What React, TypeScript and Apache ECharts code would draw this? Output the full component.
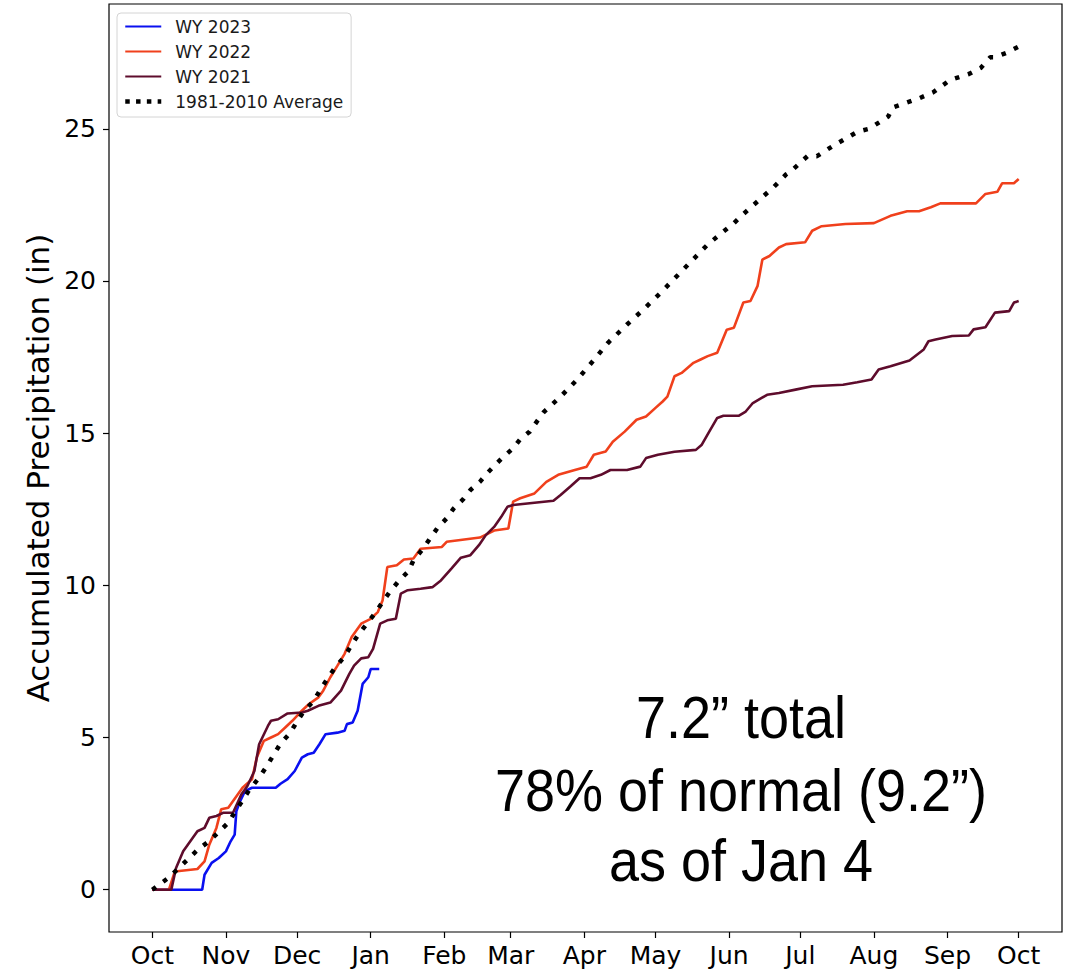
import React, { useEffect, useRef } from "react";
import * as echarts from "echarts";

// Month-start tick positions (days since Oct 1) and labels
const MONTH_TICK_DAYS = [0, 31, 61, 92, 123, 151, 182, 212, 243, 273, 304, 335, 365];
const MONTH_LABELS = ["Oct", "Nov", "Dec", "Jan", "Feb", "Mar", "Apr", "May", "Jun", "Jul", "Aug", "Sep", "Oct"];
const Y_TICKS = [0, 5, 10, 15, 20, 25];

// WY 2023 (days since Oct 1, accumulated inches)
const WY2023_DAYS = [0, 21, 22, 25, 28, 31, 33, 34.7, 35.4, 37, 39, 42, 52, 54, 57, 60, 63, 65.5, 68, 70.4, 73, 78, 81, 82, 84.4, 86.5, 88.6, 91, 92, 95.6];
const WY2023_VALUES = [0, 0, 0.49, 0.88, 1.04, 1.26, 1.59, 1.81, 2.58, 2.91, 3.24, 3.35, 3.35, 3.48, 3.63, 3.9, 4.34, 4.45, 4.5, 4.78, 5.11, 5.16, 5.22, 5.44, 5.49, 5.88, 6.76, 6.98, 7.25, 7.25];

// WY 2022
const WY2022_DAYS = [0, 7, 9.5, 19, 22, 24, 27, 29, 32, 35, 38, 42, 44, 47, 50, 53, 56, 59, 63, 66, 70, 72, 75, 78, 81, 84, 88, 92, 95, 97, 99, 103, 106, 110, 113, 122, 124, 129, 138, 144, 150, 152, 155, 161, 166, 171, 178, 183, 186, 191, 194, 199, 204, 208, 212, 215, 217, 220, 223, 228, 231, 234, 238, 242, 245, 249, 252, 255, 257, 260, 264, 267, 275, 278, 282, 292, 304, 311, 318, 323, 328, 332, 347, 351, 356, 358, 363, 365];
const WY2022_VALUES = [0, 0, 0.6, 0.68, 0.93, 1.48, 2.03, 2.64, 2.69, 3.02, 3.35, 3.63, 4.34, 4.89, 5.0, 5.11, 5.33, 5.55, 5.88, 6.1, 6.32, 6.54, 6.98, 7.36, 7.75, 8.3, 8.74, 8.9, 9.12, 9.5, 10.6, 10.66, 10.85, 10.88, 11.2, 11.26, 11.43, 11.48, 11.57, 11.8, 11.87, 12.75, 12.86, 13.02, 13.4, 13.63, 13.79, 13.9, 14.29, 14.4, 14.72, 15.05, 15.44, 15.55, 15.83, 16.04, 16.2, 16.87, 16.98, 17.31, 17.42, 17.53, 17.64, 18.4, 18.46, 19.29, 19.34, 19.84, 20.7, 20.82, 21.1, 21.21, 21.27, 21.65, 21.8, 21.87, 21.9, 22.14, 22.29, 22.29, 22.42, 22.55, 22.55, 22.86, 22.93, 23.21, 23.21, 23.35];

// WY 2021
const WY2021_DAYS = [0, 8, 10, 13, 16, 19, 22, 24, 27, 30, 34, 37.5, 40, 43, 45, 48.7, 50, 53, 57, 63, 65.5, 70, 75, 79.5, 83, 85, 88, 91, 93, 96, 99, 102.6, 104.7, 107.6, 113, 118, 121.6, 126, 130, 134, 137.6, 140.5, 144, 147, 149.6, 152, 158, 169, 172, 176, 180, 184.6, 189, 193, 200, 205.6, 208, 213, 220, 229, 231.5, 235, 238, 240.6, 247, 250, 253, 259, 264, 271, 278, 291, 297, 303, 306, 311, 319, 325, 327, 330, 337, 344, 346, 351, 355, 361, 363, 365];
const WY2021_VALUES = [0, 0, 0.71, 1.26, 1.59, 1.92, 2.03, 2.36, 2.42, 2.53, 2.53, 3.13, 3.4, 3.9, 4.78, 5.38, 5.55, 5.6, 5.79, 5.82, 5.88, 6.04, 6.15, 6.54, 7.09, 7.36, 7.6, 7.64, 7.91, 8.74, 8.85, 8.9, 9.73, 9.84, 9.89, 9.94, 10.16, 10.55, 10.91, 10.99, 11.32, 11.65, 11.92, 12.25, 12.58, 12.64, 12.69, 12.78, 12.97, 13.24, 13.52, 13.52, 13.63, 13.79, 13.79, 13.9, 14.18, 14.29, 14.39, 14.45, 14.62, 15.1, 15.5, 15.57, 15.57, 15.71, 15.99, 16.26, 16.32, 16.43, 16.54, 16.59, 16.67, 16.76, 17.09, 17.2, 17.39, 17.75, 18.02, 18.08, 18.19, 18.21, 18.41, 18.48, 18.96, 19.01, 19.29, 19.34];

// 1981-2010 Average
const AVG_DAYS = [0, 7, 11, 15, 19, 24, 28, 32, 35, 38, 41, 45, 48, 51, 54, 58, 61, 64, 68, 71, 74, 77, 81, 84, 87, 91, 94, 97, 100, 104, 108, 110, 114, 117, 120, 124, 127, 131, 134, 138, 141, 145, 148, 152, 155, 159, 162, 165, 172, 179, 186, 192, 200, 207, 214, 224, 234, 245, 249, 262, 267, 269, 276, 280, 287, 297, 302, 310, 312, 323, 329, 336, 344, 349, 353, 355, 360, 365];
const AVG_VALUES = [0, 0.4, 0.7, 1.0, 1.3, 1.6, 1.9, 2.2, 2.58, 2.93, 3.3, 3.68, 4.03, 4.42, 4.8, 5.14, 5.53, 5.88, 6.2, 6.6, 6.96, 7.3, 7.66, 8.05, 8.4, 8.8, 9.1, 9.45, 9.78, 10.16, 10.47, 10.82, 11.2, 11.54, 11.87, 12.2, 12.53, 12.83, 13.13, 13.4, 13.68, 14.0, 14.23, 14.5, 14.8, 15.05, 15.38, 15.7, 16.2, 16.76, 17.4, 17.97, 18.57, 19.07, 19.6, 20.4, 21.2, 21.9, 22.2, 23.1, 23.5, 23.6, 24.1, 24.1, 24.45, 24.9, 25.0, 25.4, 25.7, 26.0, 26.2, 26.6, 26.8, 27.0, 27.35, 27.35, 27.5, 27.7];

const SERIES_NAMES = ["WY 2023", "WY 2022", "WY 2021", "1981-2010 Average"];
const ANNOTATION_LINES = ["7.2\u201D total", "78% of normal (9.2\u201D)", "as of Jan 4"];

const pair = (xs: number[], ys: number[]) => xs.map((x, i) => [x, ys[i]]);

export default function App() {
  const ref = useRef<HTMLDivElement>(null);
  useEffect(() => {
    if (!ref.current) return;
    const chart = echarts.init(ref.current, null, { renderer: "svg" });
    const font = "DejaVu Sans";
    const lineSeries = (name: string, xs: number[], ys: number[], color: string, extra: any = {}) => ({
      name,
      type: "line",
      data: pair(xs, ys),
      showSymbol: false,
      symbol: "none",
      smooth: false,
      lineStyle: { color, width: 2.6, ...extra },
      itemStyle: { color },
      z: 2,
    });
    chart.setOption({
      animation: false,
      backgroundColor: "#fff",
      grid: {
        left: 109,
        right: 9,
        top: 4,
        bottom: 38,
        show: true,
        borderColor: "#000",
        borderWidth: 1.2,
        backgroundColor: "transparent",
      },
      legend: {
        orient: "vertical",
        left: 117,
        top: 13,
        itemWidth: 36,
        itemHeight: 14,
        itemGap: 6,
        padding: [4, 8, 6, 6],
        backgroundColor: "#fff",
        borderColor: "#d4d4d4",
        borderWidth: 1,
        borderRadius: 4,
        itemStyle: { color: "transparent", borderColor: "transparent", borderWidth: 0, opacity: 0 },
        textStyle: { fontSize: 17, fontFamily: font, color: "#1a1a1a", lineHeight: 19, padding: [0, 0, 0, 9] },
        data: [
          { name: SERIES_NAMES[0], lineStyle: { width: 2.2 } },
          { name: SERIES_NAMES[1], lineStyle: { width: 2.2 } },
          { name: SERIES_NAMES[2], lineStyle: { width: 2.2 } },
          { name: SERIES_NAMES[3], lineStyle: { width: 4.5, type: [4.5, 6.3] } },
        ],
      },
      xAxis: {
        type: "value",
        min: -18.25,
        max: 383.25,
        splitLine: { show: false },
        axisLine: { show: false, onZero: false },
        axisTick: {
          show: true,
          customValues: MONTH_TICK_DAYS,
          length: 6,
          lineStyle: { color: "#000", width: 1.2 },
        },
        axisLabel: {
          customValues: MONTH_TICK_DAYS,
          formatter: (v: number) => {
            const i = MONTH_TICK_DAYS.indexOf(Math.round(v));
            return i >= 0 ? MONTH_LABELS[i] : "";
          },
          fontSize: 25,
          fontFamily: font,
          color: "#000",
          margin: 11,
        },
      },
      yAxis: {
        type: "value",
        min: -1.39,
        max: 29.1,
        splitLine: { show: false },
        axisLine: { show: false, onZero: false },
        name: "Accumulated Precipitation (in)",
        nameLocation: "middle",
        nameRotate: 90,
        nameGap: 55,
        nameTextStyle: { fontSize: 31, fontFamily: font, color: "#000" },
        axisTick: {
          show: true,
          customValues: Y_TICKS,
          length: 6,
          lineStyle: { color: "#000", width: 1.2 },
        },
        axisLabel: {
          customValues: Y_TICKS,
          fontSize: 25,
          fontFamily: font,
          color: "#000",
          margin: 13,
        },
      },
      series: [
        lineSeries(SERIES_NAMES[0], WY2023_DAYS, WY2023_VALUES, "#0a10f0"),
        lineSeries(SERIES_NAMES[1], WY2022_DAYS, WY2022_VALUES, "#f0401c"),
        lineSeries(SERIES_NAMES[2], WY2021_DAYS, WY2021_VALUES, "#5e0c2c"),
        {
          ...lineSeries(SERIES_NAMES[3], AVG_DAYS, AVG_VALUES, "#000", { width: 4.5, type: [4.5, 9], cap: "butt" }),
          z: 3,
        },
      ],
      graphic: ANNOTATION_LINES.map((t, i) => ({
        type: "text",
        x: 741,
        y: [717, 790, 860][i],
        scaleX: 0.9,
        z: 10,
        style: {
          text: t,
          fontSize: 60,
          fontFamily: "Liberation Sans",
          fill: "#000",
          textAlign: "center",
          textVerticalAlign: "middle",
        },
      })),
    });
    return () => chart.dispose();
  }, []);
  return <div ref={ref} style={{ position: "absolute", left: 0, top: 0, width: 1071, height: 970 }} />;
}
